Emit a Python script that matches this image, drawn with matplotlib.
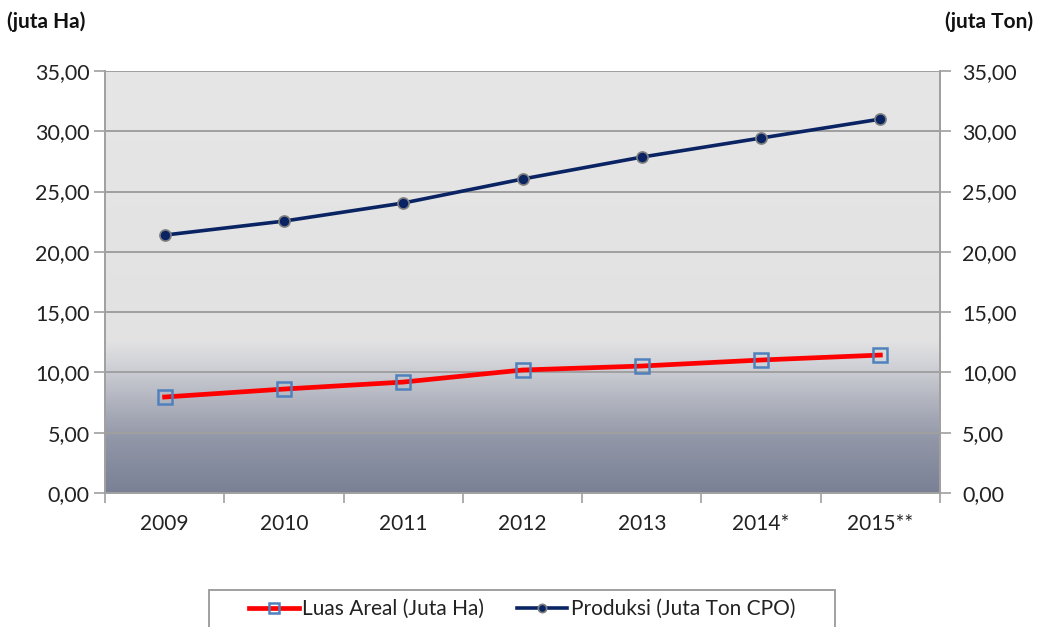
import numpy as np
import matplotlib
matplotlib.use("Agg")
import matplotlib.pyplot as plt
from matplotlib.colors import LinearSegmentedColormap
from matplotlib.patches import Rectangle

plt.rcParams['font.family'] = ['Lato', 'DejaVu Sans']

years = ["2009", "2010", "2011", "2012", "2013", "2014*", "2015**"]
luas_areal = [7.96, 8.62, 9.20, 10.20, 10.53, 11.03, 11.44]
produksi = [21.39, 22.55, 24.05, 26.04, 27.86, 29.44, 31.01]
yticks = [0, 5, 10, 15, 20, 25, 30, 35]
ytick_labels = ["0,00", "5,00", "10,00", "15,00", "20,00", "25,00", "30,00", "35,00"]

W, H = 1042, 627
fig = plt.figure(figsize=(W/100, H/100), dpi=100)
ax = fig.add_axes([105/W, 1-493/H, (940-105)/W, (493-71)/H])

# gradient background
cmap = LinearSegmentedColormap.from_list(
    "bg", [(0.0, "#7a8196"), (0.12, "#9095a6"), (0.22, "#b2b5c0"),
           (0.31, "#d3d4d9"), (0.36, "#e2e2e3"), (1.0, "#e6e6e6")])
grad = np.linspace(0, 1, 256).reshape(-1, 1)
ax.imshow(grad, aspect='auto', cmap=cmap, origin='lower',
          extent=[0, 1, 0, 1], transform=ax.transAxes, zorder=0)

x = np.arange(len(years))
for yv in yticks:
    ax.axhline(yv, color="#a0a0a0", lw=1.4, zorder=1)

ax.plot(x, luas_areal, color="#ff0000", lw=3.4, marker='s', ms=9.5,
        mfc=(1, 1, 1, 0), mec="#4f81bd", mew=1.8, zorder=3,
        label="Luas Areal (Juta Ha)")
ax.plot(x, produksi, color="#0a2463", lw=2.6, marker='o', ms=8,
        mfc="#0a2463", mec="#808080", mew=1.2, zorder=3,
        label="Produksi (Juta Ton CPO)")

ax.set_xlim(-0.5, len(years) - 0.5)
ax.set_ylim(0, 35)
ax.set_yticks(yticks)
ax.set_yticklabels(ytick_labels)
ax.set_xticks(x)
ax.set_xticklabels(years)
ax.tick_params(axis='x', length=0, pad=15, labelsize=15, colors="#222222")
ax.set_xticks(np.arange(-0.5, len(years)), minor=True)
ax.tick_params(axis='x', which='minor', length=7, color="#a0a0a0", width=1.2)
ax.tick_params(axis='y', length=8, color="#a0a0a0", width=1.2, pad=3,
               labelsize=15.5, labelcolor="#222222")

ax.spines['top'].set_visible(False)
for s in ['left', 'right', 'bottom']:
    ax.spines[s].set_color("#a0a0a0")
    ax.spines[s].set_linewidth(1.4)

ax2 = ax.twinx()
ax2.set_ylim(0, 35)
ax2.set_yticks(yticks)
ax2.set_yticklabels(ytick_labels)
ax2.tick_params(axis='y', length=8, color="#a0a0a0", width=1.2, pad=8,
                labelsize=15.5, labelcolor="#222222")
for s in ['top', 'left', 'bottom']:
    ax2.spines[s].set_visible(False)
ax2.spines['right'].set_color("#a0a0a0")
ax2.spines['right'].set_linewidth(1.4)

fig.text(7/W, 1-22/H, "(juta Ha)", fontsize=15, fontweight='bold',
         va='center', ha='left', color="#111111")
fig.text(1033/W, 1-22/H, "(juta Ton)", fontsize=15, fontweight='bold',
         va='center', ha='right', color="#111111")

# legend frame
fig.patches.append(Rectangle((209/W, 1-660/H), (835-209)/W, 70/H,
                             transform=fig.transFigure, facecolor='white',
                             edgecolor="#a0a0a0", lw=1.4, zorder=0))
leg = fig.legend(loc='center', bbox_to_anchor=(522/W, 1-609/H),
                 ncol=2, frameon=False, fontsize=15,
                 handlelength=2.4, handletextpad=0.15, columnspacing=1.6,
                 borderpad=0.2, markerscale=0.75)
for t in leg.get_texts():
    t.set_color("#222222")

fig.savefig("out.png", dpi=100)
